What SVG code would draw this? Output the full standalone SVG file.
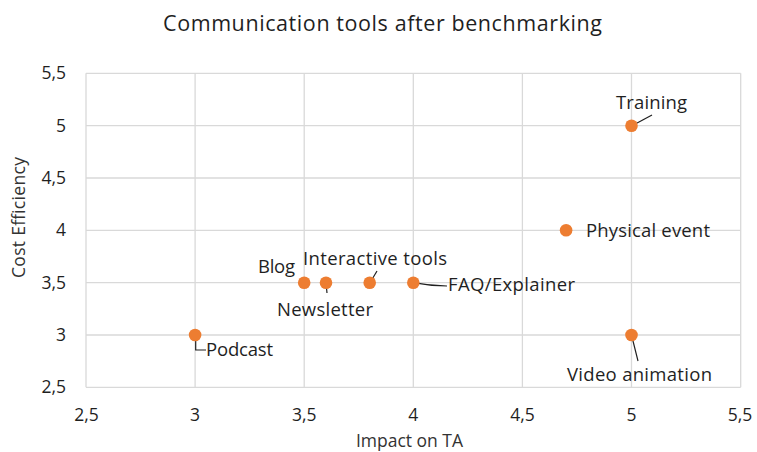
<svg xmlns="http://www.w3.org/2000/svg" width="757" height="452" viewBox="0 0 757 452">
  <style>
    text { font-family: "Open Sans", "Noto Sans", "Liberation Sans", sans-serif; fill: #1f1f1f; }
    .grid { stroke: #d9d9d9; stroke-width: 1.3; fill: none; }
    .tick { font-size: 17.5px; fill: #333333; }
    .lbl { font-size: 18.5px; }
    .axt { font-size: 17.5px; fill: #333333; }
    .pt { fill: #ED7D31; }
    .lead { stroke: #1f1f1f; stroke-width: 1.2; fill: none; }
  </style>
  <rect width="757" height="452" fill="#ffffff"/>

  <!-- title -->
  <text x="382.5" y="31" font-size="21.5" text-anchor="middle" textLength="439">Communication tools after benchmarking</text>

  <!-- plot grid -->
  <g id="grid">
    <path class="grid" d="M86 73.3H740.7M86 125.7H740.7M86 178H740.7M86 230.3H740.7M86 282.7H740.7M86 335H740.7M86 387.3H740.7"/>
    <path class="grid" d="M86 73.3V387.3M195.1 73.3V387.3M304.2 73.3V387.3M413.3 73.3V387.3M522.4 73.3V387.3M631.5 73.3V387.3M740.7 73.3V387.3"/>
  </g>

  <!-- axis ticks -->
  <g id="y-ticks" class="tick" text-anchor="end">
    <text x="66" y="79.3">5,5</text>
    <text x="66" y="131.7">5</text>
    <text x="66" y="184">4,5</text>
    <text x="66" y="236.3">4</text>
    <text x="66" y="288.7">3,5</text>
    <text x="66" y="341">3</text>
    <text x="66" y="393.3">2,5</text>
  </g>
  <g id="x-ticks" class="tick" text-anchor="middle">
    <text x="86.5" y="421">2,5</text>
    <text x="195.1" y="421">3</text>
    <text x="304.2" y="421">3,5</text>
    <text x="413.3" y="421">4</text>
    <text x="522.4" y="421">4,5</text>
    <text x="631.5" y="421">5</text>
    <text x="740" y="421">5,5</text>
  </g>

  <!-- axis titles -->
  <text class="axt" transform="translate(25 217.5) rotate(-90)" text-anchor="middle" textLength="121">Cost Efficiency</text>
  <text class="axt" x="409.5" y="446.5" text-anchor="middle" textLength="107">Impact on TA</text>

  <!-- label leader lines -->
  <g id="connectors">
    <path class="lead" d="M632 125.7L652 115"/>
    <path class="lead" d="M326 282.7L327 293"/>
    <path class="lead" d="M370 282.7L377 271"/>
    <path class="lead" d="M413.3 282.7Q430 286 447 286"/>
    <path class="lead" d="M195.7 335V350H206"/>
    <path class="lead" d="M631.5 335L638 361"/>
  </g>

  <!-- data points with labels -->
  <g id="training">
    <circle class="pt" cx="631.5" cy="125.7" r="6.3"/>
    <text class="lbl" x="616" y="109" textLength="71">Training</text>
  </g>
  <g id="physical-event">
    <circle class="pt" cx="566.1" cy="230.3" r="6.3"/>
    <text class="lbl" x="586" y="237" textLength="124">Physical event</text>
  </g>
  <g id="blog">
    <circle class="pt" cx="304.2" cy="282.7" r="6.3"/>
    <text class="lbl" x="258" y="273" textLength="37">Blog</text>
  </g>
  <g id="newsletter">
    <circle class="pt" cx="326" cy="282.7" r="6.3"/>
    <text class="lbl" x="277" y="316" textLength="96">Newsletter</text>
  </g>
  <g id="interactive-tools">
    <circle class="pt" cx="369.7" cy="282.7" r="6.3"/>
    <text class="lbl" x="303" y="265" textLength="144">Interactive tools</text>
  </g>
  <g id="faq-explainer">
    <circle class="pt" cx="413.3" cy="282.7" r="6.3"/>
    <text class="lbl" x="448" y="291" textLength="127">FAQ/Explainer</text>
  </g>
  <g id="podcast">
    <circle class="pt" cx="195.1" cy="335" r="6.3"/>
    <text class="lbl" x="206" y="356" textLength="67">Podcast</text>
  </g>
  <g id="video-animation">
    <circle class="pt" cx="631.5" cy="335" r="6.3"/>
    <text class="lbl" x="567" y="381" textLength="145">Video animation</text>
  </g>
</svg>
